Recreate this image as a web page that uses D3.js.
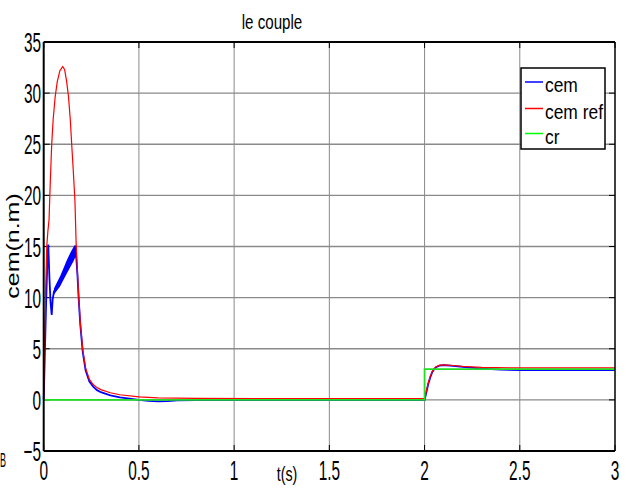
<!DOCTYPE html>
<html>
<head>
<meta charset="utf-8">
<script src="https://cdn.jsdelivr.net/npm/d3@7"></script>
<style>
  body { margin: 0; background: #fff; }
  text { font-family: "Liberation Sans", Arial, sans-serif; fill: #000; }
</style>
</head>
<body>
<div id="chart"></div>
<script>
const width = 626;
const height = 488;

// cem ref (red)
const refT = [0, 0.005, 0.01, 0.016, 0.022, 0.028, 0.034, 0.042, 0.05, 0.06, 0.071, 0.085, 0.1, 0.11, 0.12, 0.13, 0.14, 0.147, 0.155, 0.164, 0.17, 0.177, 0.184, 0.192, 0.205, 0.22, 0.24, 0.26, 0.28, 0.3, 0.35, 0.4, 0.5, 0.6, 0.8, 1.2, 2.0,
  2.01, 2.02, 2.03, 2.04, 2.05, 2.06, 2.08, 2.1, 2.15, 2.2, 2.3, 2.5, 3.0];
const refV = [0, 6, 10.5, 15, 16.5, 17.6, 21, 25, 27.5, 29.6, 31.1, 32.2, 32.6, 32.3, 31.2, 29.7, 27.3, 25, 22.5, 19.5, 15.5, 12.5, 10, 7.6, 4.9, 3.1, 2.0, 1.5, 1.2, 1.0, 0.7, 0.5, 0.3, 0.2, 0.15, 0.12, 0.12,
  0.9, 1.7, 2.3, 2.75, 3.05, 3.25, 3.4, 3.43, 3.36, 3.27, 3.17, 3.12, 3.12];

// cem (blue), centre line
const cemT = [0, 0.004, 0.012, 0.02, 0.024, 0.03, 0.036, 0.042, 0.047, 0.054, 0.07, 0.09, 0.11, 0.13, 0.15, 0.165, 0.17, 0.177, 0.184, 0.192, 0.205, 0.22, 0.24, 0.26, 0.28, 0.3, 0.35, 0.4, 0.5, 0.55, 0.6, 0.65, 0.7, 0.8, 1.2, 2.0,
  2.01, 2.02, 2.03, 2.04, 2.05, 2.06, 2.08, 2.1, 2.15, 2.2, 2.3, 2.4, 2.5, 3.0];
const cemV = [0, 3, 9, 14, 15.2, 12, 9.5, 8.3, 9.8, 10.6, 11.2, 11.8, 12.6, 13.3, 14, 14.6, 14.2, 12.3, 9.8, 7.4, 4.7, 2.9, 1.8, 1.3, 0.95, 0.75, 0.45, 0.25, 0.0, -0.1, -0.15, -0.12, -0.05, -0.03, -0.02, -0.02,
  0.8, 1.6, 2.2, 2.7, 3.0, 3.2, 3.36, 3.4, 3.33, 3.22, 3.05, 2.95, 2.9, 2.9];

// ripple envelope of cem during start-up
const bandT = [0.054, 0.07, 0.086, 0.1, 0.12, 0.14, 0.155, 0.165, 0.17];
const bandLo = [10.3, 10.7, 11.1, 11.6, 12.3, 13.0, 13.5, 13.9, 13.9];
const bandHi = [10.9, 11.5, 12.1, 12.7, 13.6, 14.4, 14.9, 15.2, 15.0];

// cr (green)
const crT = [0, 2, 2, 3];
const crV = [0, 0, 3, 3];

const xTicks = [0, 0.5, 1, 1.5, 2, 2.5, 3];
const xTickLabels = ["0", "0.5", "1", "1.5", "2", "2.5", "3"];
const yTicks = [-5, 0, 5, 10, 15, 20, 25, 30, 35];
const yTickLabels = ["\u22125", "0", "5", "10", "15", "20", "25", "30", "35"];

const legendNames = ["cem", "cem ref", "cr"];
const legendColors = ["#0000ff", "#ff0000", "#00ff00"];

const plotLeft = 43.7, plotRight = 615, plotTop = 42, plotBottom = 451;

const x = d3.scaleLinear().domain([0, 3]).range([plotLeft, plotRight]);
const y = d3.scaleLinear().domain([-5, 35]).range([plotBottom, plotTop]);

const svg = d3.select("#chart").append("svg")
  .attr("width", width)
  .attr("height", height);

// grid
svg.append("g").selectAll("line")
  .data(xTicks.slice(1, -1))
  .enter().append("line")
  .attr("x1", d => x(d)).attr("x2", d => x(d))
  .attr("y1", plotTop).attr("y2", plotBottom)
  .attr("stroke", "#8a8a8a").attr("stroke-width", 1);

svg.append("g").selectAll("line")
  .data(yTicks.slice(1, -1))
  .enter().append("line")
  .attr("x1", plotLeft).attr("x2", plotRight)
  .attr("y1", d => y(d)).attr("y2", d => y(d))
  .attr("stroke", "#8a8a8a").attr("stroke-width", 1.3);

// inward ticks
const tickG = svg.append("g").attr("stroke", "#000").attr("stroke-width", 1);
xTicks.forEach(t => {
  tickG.append("line").attr("x1", x(t)).attr("x2", x(t)).attr("y1", plotBottom).attr("y2", plotBottom - 6);
  tickG.append("line").attr("x1", x(t)).attr("x2", x(t)).attr("y1", plotTop).attr("y2", plotTop + 6);
});
yTicks.forEach(t => {
  tickG.append("line").attr("x1", plotLeft).attr("x2", plotLeft + 6).attr("y1", y(t)).attr("y2", y(t));
  tickG.append("line").attr("x1", plotRight).attr("x2", plotRight - 6).attr("y1", y(t)).attr("y2", y(t));
});

// series
const line = d3.line().x(d => x(d[0])).y(d => y(d[1]));

svg.append("path")
  .datum(bandT.map((t, i) => [t, bandLo[i], bandHi[i]]))
  .attr("d", d3.area().x(d => x(d[0])).y0(d => y(d[1])).y1(d => y(d[2])))
  .attr("fill", "#0000ff");

svg.append("path")
  .datum(cemT.map((t, i) => [t, cemV[i]]))
  .attr("d", line)
  .attr("fill", "none").attr("stroke", "#0000ff").attr("stroke-width", 1.8);

svg.append("path")
  .datum(refT.map((t, i) => [t, refV[i]]))
  .attr("d", line)
  .attr("fill", "none").attr("stroke", "#ff0000").attr("stroke-width", 1.2);

svg.append("path")
  .datum(crT.map((t, i) => [t, crV[i]]))
  .attr("d", line)
  .attr("fill", "none").attr("stroke", "#22dd22").attr("stroke-width", 1.8);

// axes box
svg.append("line").attr("x1", plotLeft).attr("x2", plotRight).attr("y1", plotTop).attr("y2", plotTop)
  .attr("stroke", "#000").attr("stroke-width", 2);
svg.append("line").attr("x1", plotLeft).attr("x2", plotRight).attr("y1", plotBottom).attr("y2", plotBottom)
  .attr("stroke", "#000").attr("stroke-width", 2);
svg.append("line").attr("x1", plotLeft).attr("x2", plotLeft).attr("y1", plotTop).attr("y2", plotBottom)
  .attr("stroke", "#000").attr("stroke-width", 2);
svg.append("line").attr("x1", plotRight).attr("x2", plotRight).attr("y1", plotTop).attr("y2", plotBottom)
  .attr("stroke", "#000").attr("stroke-width", 1.5);

// tick labels (narrow, as in the source figure)
svg.append("g").selectAll("text")
  .data(xTicks)
  .enter().append("text")
  .attr("transform", d => "translate(" + x(d) + ",480) scale(0.55,1)")
  .attr("text-anchor", "middle")
  .style("font-size", "28px")
  .text((d, i) => xTickLabels[i]);

svg.append("g").selectAll("text")
  .data(yTicks)
  .enter().append("text")
  .attr("transform", d => "translate(41," + (y(d) + 10) + ") scale(0.55,1)")
  .attr("text-anchor", "end")
  .style("font-size", "28px")
  .text((d, i) => yTickLabels[i]);

// title and axis labels
svg.append("text")
  .attr("transform", "translate(272,29) scale(0.72,1)")
  .attr("text-anchor", "middle")
  .style("font-size", "21px")
  .text("le couple");

svg.append("text")
  .attr("transform", "translate(287,481) scale(0.68,1)")
  .attr("text-anchor", "middle")
  .style("font-size", "21px")
  .text("t(s)");

svg.append("text")
  .attr("transform", "translate(19,246) rotate(-90) scale(1,0.7)")
  .attr("text-anchor", "middle")
  .style("font-size", "25px")
  .text("cem(n.m)");

// partial glyph at the left edge
svg.append("text")
  .attr("transform", "translate(0,467) scale(0.45,1)")
  .attr("text-anchor", "start")
  .style("font-size", "20px")
  .text("B");

// legend
const legend = svg.append("g").attr("class", "legend");
legend.append("rect")
  .attr("x", 521).attr("y", 68).attr("width", 84).attr("height", 81)
  .attr("fill", "#fff").attr("stroke", "#000").attr("stroke-width", 1.5);

const legendY = [82, 108.5, 133.5];
legend.selectAll("line.item")
  .data(legendNames)
  .enter().append("line")
  .attr("class", "item")
  .attr("x1", 525).attr("x2", 543)
  .attr("y1", (d, i) => legendY[i]).attr("y2", (d, i) => legendY[i])
  .attr("stroke", (d, i) => legendColors[i]).attr("stroke-width", 1.5);

legend.selectAll("text")
  .data(legendNames)
  .enter().append("text")
  .attr("transform", (d, i) => "translate(545," + (legendY[i] + 10) + ") scale(0.87,1)")
  .style("font-size", "20px")
  .text(d => d);
</script>
</body>
</html>
